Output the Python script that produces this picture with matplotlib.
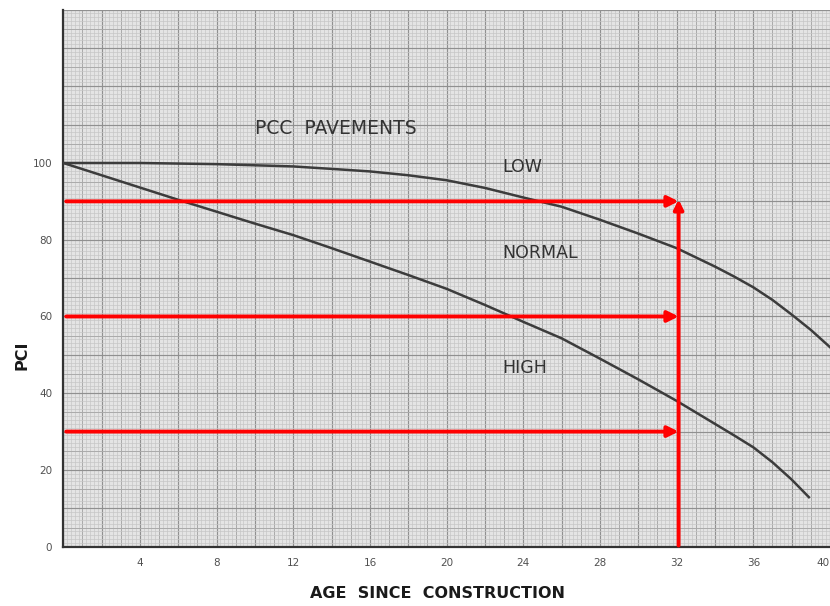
import numpy as np
import matplotlib
matplotlib.use("Agg")
import matplotlib.pyplot as plt

# condition curves
low_age = [0, 4, 8, 12, 14.5, 16, 18, 20, 22, 24, 26, 28, 30, 32, 34, 35, 36, 37, 38, 39, 40]
low_pci = [100, 100, 99.7, 99.1, 98.3, 97.8, 96.8, 95.5, 93.5, 91, 88.6, 85.2, 81.6, 77.8, 73, 70.4, 67.6, 64.3, 60.5, 56.5, 52]
high_age = [0, 2, 4, 6, 8, 10, 12, 14, 16, 18, 20, 22, 24, 26, 28, 30, 32, 34, 35, 36, 37, 38, 38.9]
high_pci = [100, 96.8, 93.6, 90.4, 87.3, 84.2, 81.2, 77.8, 74.3, 70.8, 67.2, 63, 58.6, 54.3, 49, 43.6, 38, 32, 29, 25.9, 22, 17.5, 12.9]

zone_names = ["LOW", "NORMAL", "HIGH"]
zone_pci = [99, 76.5, 46.5]
target_pci = [90, 60, 30]
target_age = 32.1

x_ticks = [4, 8, 12, 16, 20, 24, 28, 32, 36, 40]
y_ticks = [0, 20, 40, 60, 80, 100]

fig = plt.figure(figsize=(8.3, 6.06), dpi=100)
ax = fig.add_axes([63.3 / 830, 1 - 546.7 / 606, 1 - 63.3 / 830, (546.7 - 9.5) / 606])
ax.set_xlim(0, 40)
ax.set_ylim(0, 140)
ax.set_facecolor("#e4e4e4")

# graph paper: fine, medium and heavy rulings
for v in np.arange(0, 40.01, 0.2):
    if abs(v - round(v / 2) * 2) < 1e-6:
        c, w = "#909090", 0.85
    elif abs(v - round(v)) < 1e-6:
        c, w = "#aaaaaa", 0.7
    else:
        c, w = "#c6c6c6", 0.5
    ax.axvline(v, color=c, lw=w, zorder=0)
for v in np.arange(0, 140.01, 1):
    if v % 10 == 0:
        c, w = "#909090", 0.85
    elif v % 5 == 0:
        c, w = "#aaaaaa", 0.7
    else:
        c, w = "#c6c6c6", 0.5
    ax.axhline(v, color=c, lw=w, zorder=0)

ax.plot(low_age, low_pci, color="#3c3c3c", lw=1.8, zorder=3)
ax.plot(high_age, high_pci, color="#3c3c3c", lw=1.8, zorder=3)

ax.text(10.0, 109, "PCC  PAVEMENTS", fontsize=13.5, color="#333333", va="center")
for name, p in zip(zone_names, zone_pci):
    ax.text(22.9, p, name, fontsize=12.5, color="#333333", va="center")

# red arrows at the three target levels
for p in target_pci:
    ax.annotate("", xy=(target_age, p), xytext=(0.15, p),
                arrowprops=dict(arrowstyle="-|>", color="red", lw=2.8,
                                mutation_scale=16, shrinkA=0, shrinkB=0),
                zorder=5)
ax.annotate("", xy=(target_age, target_pci[0] + 0.5), xytext=(target_age, 0.3),
            arrowprops=dict(arrowstyle="-|>", color="red", lw=2.8,
                            mutation_scale=14, shrinkA=0, shrinkB=0),
            zorder=5)

ax.set_xticks(x_ticks)
ax.set_yticks(y_ticks)
ax.set_xticklabels([str(t) for t in x_ticks], fontsize=7.5, color="#505050")
ax.set_yticklabels([str(t) for t in y_ticks], fontsize=7.5, color="#505050")
# last label sits at the right edge of the sheet
ax.get_xticklabels()[-1].set_horizontalalignment("right")
ax.tick_params(length=0, pad=8)
for s in ["top", "right"]:
    ax.spines[s].set_visible(False)
ax.spines["left"].set_color("#333333")
ax.spines["bottom"].set_color("#333333")
ax.spines["left"].set_linewidth(1.6)
ax.spines["bottom"].set_linewidth(1.6)

fig.text(437 / 830, 1 - 593 / 606, "AGE  SINCE  CONSTRUCTION", fontsize=11.5,
         fontweight="bold", color="#1a1a1a", ha="center", va="center")
fig.text(22 / 830, 1 - 355 / 606, "PCI", fontsize=11.5, fontweight="bold",
         color="#1a1a1a", rotation=90, ha="center", va="center")

fig.savefig("out.png", dpi=100)
